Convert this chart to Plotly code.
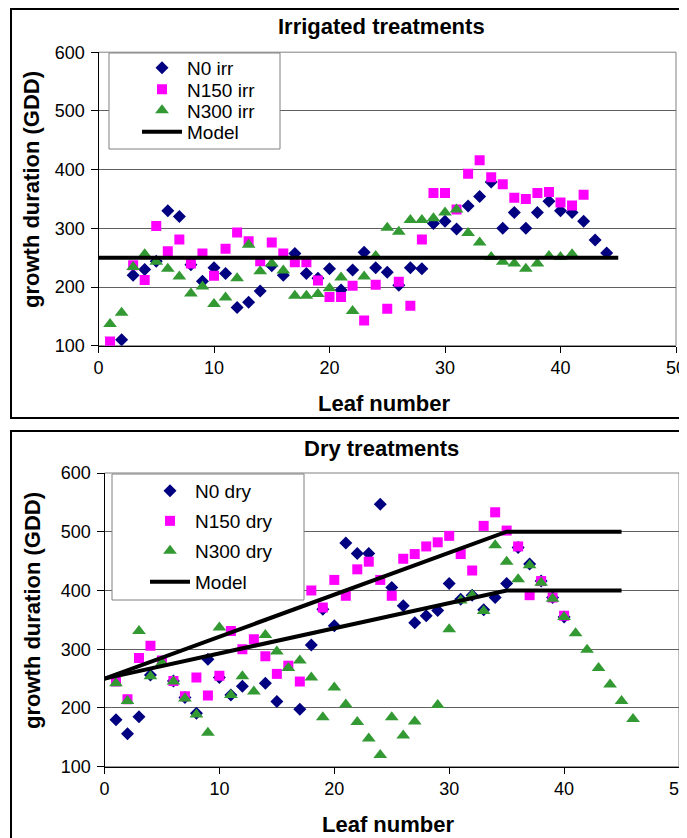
import plotly.graph_objects as go

W, H = 687, 838

# ---------------- data: irrigated treatments ----------------
n0_irr_x = [2, 3, 4, 5, 6, 7, 8, 9, 10, 11, 12, 13, 14, 15, 16, 17, 18, 19, 20, 21, 22, 23,
            24, 25, 26, 27, 28, 29, 30, 31, 32, 33, 34, 35, 36, 37, 38, 39, 40, 41, 42, 43, 44]
n0_irr_y = [110, 220, 230, 244, 330, 320, 238, 210, 233, 223, 165, 174, 193, 236, 220, 257, 223,
            215, 231, 195, 229, 259, 233, 225, 203, 233, 231, 308, 312, 299, 338, 354, 379, 300,
            327, 300, 327, 346, 330, 327, 312, 280, 258]

n150_irr_x = [1, 3, 4, 5, 6, 7, 8, 9, 10, 11, 12, 13, 14, 15, 16, 17, 18, 19, 20, 21, 22, 23,
              24, 25, 26, 27, 28, 29, 30, 31, 32, 33, 34, 35, 36, 37, 38, 39, 40, 41, 42]
n150_irr_y = [107, 237, 212, 304, 261, 281, 240, 257, 219, 265, 293, 278, 244, 276, 257, 242, 242,
              211, 183, 183, 202, 143, 204, 163, 209, 168, 281, 360, 360, 332, 393, 416, 387, 375,
              352, 350, 360, 362, 344, 339, 357]

n300_irr_x = [1, 2, 3, 4, 5, 6, 7, 8, 9, 10, 11, 12, 13, 14, 15, 16, 17, 18, 19, 20, 21, 22,
              23, 24, 25, 26, 27, 28, 29, 30, 31, 32, 33, 34, 35, 36, 37, 38, 39, 40, 41]
n300_irr_y = [137, 156, 234, 256, 243, 231, 218, 189, 201, 171, 182, 215, 272, 227, 240, 228, 185,
              185, 188, 198, 216, 159, 218, 253, 301, 294, 314, 314, 317, 327, 332, 292, 276, 251,
              243, 240, 231, 240, 253, 251, 256]

model_irr_x = [0, 45]
model_irr_y = [250, 250]

# ---------------- data: dry treatments ----------------
n0_dry_x = [1, 2, 3, 4, 6, 7, 8, 9, 10, 11, 12, 14, 15, 17, 18, 19, 20, 21, 22, 23, 24, 25, 26,
            27, 28, 29, 30, 31, 32, 33, 34, 35, 36, 37, 38, 39, 40]
n0_dry_y = [180, 156, 185, 256, 246, 218, 191, 283, 252, 222, 237, 242, 211, 198, 307, 368, 340,
            481, 463, 463, 547, 405, 374, 345, 357, 366, 412, 385, 392, 367, 388, 412, 473, 445,
            416, 388, 355]

n150_dry_x = [1, 2, 3, 4, 5, 6, 7, 8, 9, 10, 11, 12, 13, 14, 15, 16, 17, 18, 19, 20, 21, 22, 23,
              24, 25, 26, 27, 28, 29, 30, 31, 32, 33, 34, 35, 36, 37, 38, 39, 40]
n150_dry_y = [245, 215, 285, 306, 281, 246, 220, 252, 221, 255, 331, 300, 317, 288, 258, 272, 245,
              400, 371, 418, 391, 436, 449, 418, 391, 454, 462, 475, 482, 493, 462, 434, 510, 533,
              502, 475, 392, 416, 388, 357]

n300_dry_x = [1, 2, 3, 4, 5, 6, 7, 8, 9, 10, 11, 12, 13, 14, 15, 16, 17, 18, 19, 20, 21, 22, 23,
              24, 25, 26, 27, 29, 30, 31, 32, 33, 34, 35, 36, 37, 38, 39, 40, 41, 42, 43, 44, 45, 46]
n300_dry_y = [242, 212, 331, 254, 277, 245, 216, 189, 158, 337, 222, 254, 228, 324, 296, 268, 281,
              252, 184, 235, 206, 176, 148, 120, 184, 153, 177, 205, 334, 383, 392, 365, 477, 449,
              419, 443, 413, 386, 355, 327, 299, 268, 240, 212, 181]

model_dry_hi_x = [0, 35, 45]
model_dry_hi_y = [250, 500, 500]
model_dry_lo_x = [0, 35, 45]
model_dry_lo_y = [250, 400, 400]

x_range = [0, 50]
y_range = [100, 600]

# ---------------- styling ----------------
NAVY = "#000080"
MAGENTA = "#FF00FF"
GREEN = "#339933"
FONT = "Liberation Sans, Arial, sans-serif"
OFF = 8  # page body margin of the browser


def px_x(p):
    return (p - OFF) / W


def px_y(p):
    return 1 - (p - OFF) / H


fig = go.Figure()

# legend item placements (marker centre x, item centre y) in page pixels
LEG_TOP = {"N0 irr": (165, 68), "N150 irr": (165, 89.5), "N300 irr": (165, 110.5),
           "Model": (165, 132)}
LEG_BOT = {"N0 dry": (173, 491), "N150 dry": (173, 521), "N300 dry": (173, 551),
           "Model": (173, 582)}

legend_layouts = {}
counter = [0]


def new_legend(cx, cy):
    counter[0] += 1
    key = "legend" if counter[0] == 1 else f"legend{counter[0]}"
    legend_layouts[key] = dict(
        x=px_x(cx - 28), y=px_y(cy), xanchor="left", yanchor="middle",
        bgcolor="rgba(0,0,0,0)", borderwidth=0, itemwidth=40,
        font=dict(family=FONT, size=19, color="black"))
    return key


def add_points(x, y, name, color, symbol, size, xa, ya, pos):
    fig.add_trace(go.Scatter(
        x=x, y=y, mode="markers", name=name, xaxis=xa, yaxis=ya,
        marker=dict(color=color, symbol=symbol, size=size, line=dict(width=0)),
        legend=new_legend(*pos)))


add_points(n0_irr_x, n0_irr_y, "N0 irr", NAVY, "diamond", 10, "x", "y", LEG_TOP["N0 irr"])
add_points(n150_irr_x, n150_irr_y, "N150 irr", MAGENTA, "square", 10, "x", "y", LEG_TOP["N150 irr"])
add_points(n300_irr_x, n300_irr_y, "N300 irr", GREEN, "triangle-up", 12, "x", "y", LEG_TOP["N300 irr"])
fig.add_trace(go.Scatter(x=model_irr_x, y=model_irr_y, mode="lines", name="Model",
                         xaxis="x", yaxis="y", line=dict(color="black", width=4),
                         legend=new_legend(*LEG_TOP["Model"])))

add_points(n0_dry_x, n0_dry_y, "N0 dry", NAVY, "diamond", 10, "x2", "y2", LEG_BOT["N0 dry"])
add_points(n150_dry_x, n150_dry_y, "N150 dry", MAGENTA, "square", 10, "x2", "y2", LEG_BOT["N150 dry"])
add_points(n300_dry_x, n300_dry_y, "N300 dry", GREEN, "triangle-up", 12, "x2", "y2", LEG_BOT["N300 dry"])
model_key = new_legend(*LEG_BOT["Model"])
fig.add_trace(go.Scatter(x=model_dry_hi_x, y=model_dry_hi_y, mode="lines", name="Model",
                         xaxis="x2", yaxis="y2", line=dict(color="black", width=4),
                         legend=model_key, legendgroup="drymodel"))
fig.add_trace(go.Scatter(x=model_dry_lo_x, y=model_dry_lo_y, mode="lines", name="Model",
                         xaxis="x2", yaxis="y2", line=dict(color="black", width=4),
                         legend=model_key, legendgroup="drymodel", showlegend=False))

# plot-area pixel boxes (page pixels)
TOP = dict(l=98.5, r=676, t=52.2, b=345.7)
BOT = dict(l=104.5, r=679, t=473, b=766.7)

axis_common = dict(
    showline=True, linecolor="black", linewidth=1, ticks="outside", tickcolor="black",
    tickwidth=1, tickfont=dict(family=FONT, size=18, color="black"), zeroline=False,
    automargin=False,
)

fig.update_layout(
    width=W, height=H, margin=dict(l=0, r=0, t=0, b=0),
    paper_bgcolor="white", plot_bgcolor="white", showlegend=True,
    font=dict(family=FONT, color="black"),
    xaxis=dict(domain=[px_x(TOP["l"]), px_x(TOP["r"])], range=x_range, dtick=10,
               showgrid=False, anchor="y", ticklen=6, **axis_common),
    yaxis=dict(domain=[px_y(TOP["b"]), px_y(TOP["t"])], range=y_range, dtick=100,
               showgrid=True, gridcolor="#606060", gridwidth=1, anchor="x", ticklen=7,
               ticklabelstandoff=2, **axis_common),
    xaxis2=dict(domain=[px_x(BOT["l"]), px_x(BOT["r"])], range=x_range, dtick=10,
                showgrid=False, anchor="y2", ticklen=6, **axis_common),
    yaxis2=dict(domain=[px_y(BOT["b"]), px_y(BOT["t"])], range=y_range, dtick=100,
                showgrid=True, gridcolor="#606060", gridwidth=1, anchor="x2", ticklen=7,
                ticklabelstandoff=2, **axis_common),
    **legend_layouts,
)

shapes = []
# outer panel borders
for (x0, y0, x1, y1) in [(11, 9, 720, 418), (11, 431, 720, 880)]:
    shapes.append(dict(type="rect", xref="paper", yref="paper",
                       x0=px_x(x0), x1=px_x(x1), y0=px_y(y1), y1=px_y(y0),
                       line=dict(color="black", width=2), fillcolor="rgba(0,0,0,0)"))
# plot-area borders (gray)
for xa, ya in [("x", "y"), ("x2", "y2")]:
    shapes.append(dict(type="rect", xref=f"{xa} domain", yref=f"{ya} domain",
                       x0=0, x1=1, y0=0, y1=1, line=dict(color="#808080", width=1),
                       layer="below"))
# legend boxes
for (x0, y0, x1, y1) in [(109, 53, 280, 149), (112, 474, 304, 600)]:
    shapes.append(dict(type="rect", xref="paper", yref="paper",
                       x0=px_x(x0), x1=px_x(x1), y0=px_y(y1), y1=px_y(y0),
                       line=dict(color="#808080", width=1), fillcolor="white", layer="above"))
fig.update_layout(shapes=shapes)

TITLE_FONT = dict(family=FONT, size=22, color="black")
ann = []
ann.append(dict(text="<b>Irrigated treatments</b>", x=px_x(381), y=px_y(27)))
ann.append(dict(text="<b>Dry treatments</b>", x=px_x(381), y=px_y(448)))
ann.append(dict(text="<b>Leaf number</b>", x=px_x(384), y=px_y(403)))
ann.append(dict(text="<b>Leaf number</b>", x=px_x(388), y=px_y(824)))
ann.append(dict(text="<b>growth duration (GDD)</b>", x=px_x(32), y=px_y(190), textangle=-90))
ann.append(dict(text="<b>growth duration (GDD)</b>", x=px_x(32), y=px_y(611), textangle=-90))
for a in ann:
    a.update(xref="paper", yref="paper", showarrow=False, font=TITLE_FONT,
             xanchor="center", yanchor="middle")
fig.update_layout(annotations=ann)

fig.write_html("out.html")
